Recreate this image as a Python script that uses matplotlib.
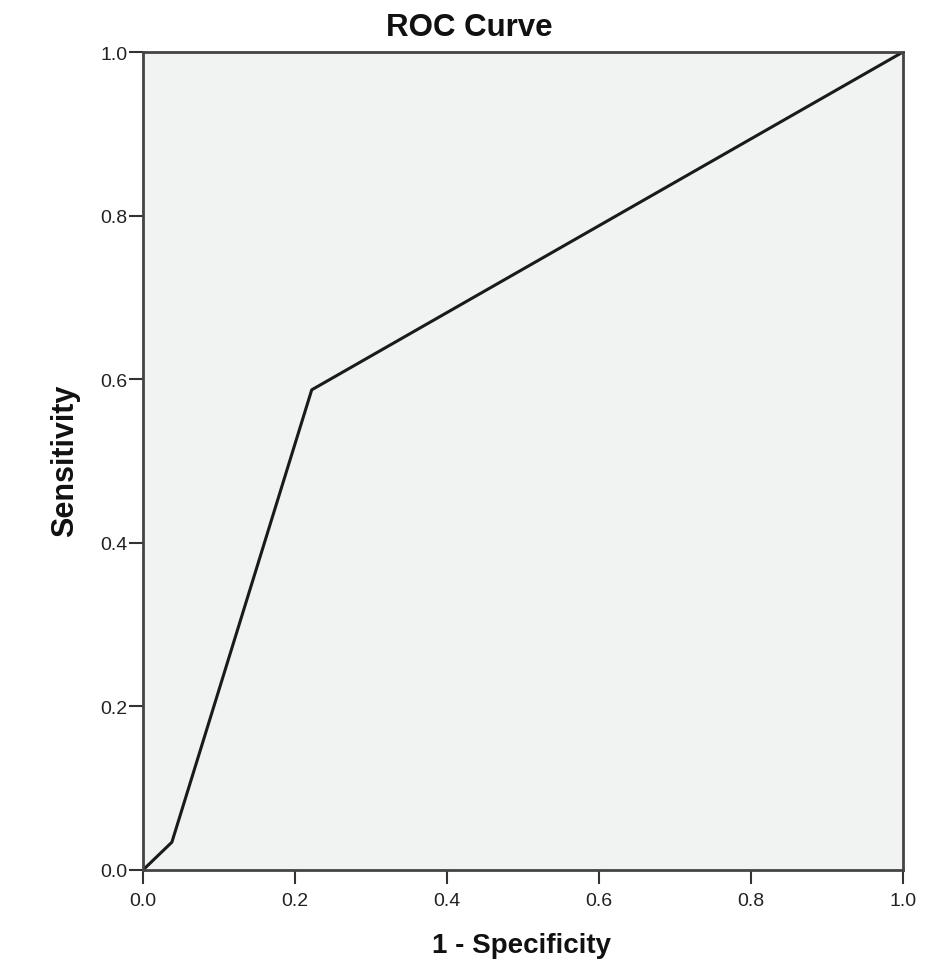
import matplotlib
matplotlib.use("Agg")
import matplotlib.pyplot as plt

# ROC points
fpr = [0.0, 0.038, 0.222, 1.0]
tpr = [0.0, 0.034, 0.587, 1.0]
ticks = [0.0, 0.2, 0.4, 0.6, 0.8, 1.0]

plt.rcParams["font.family"] = ["Liberation Sans", "DejaVu Sans"]


def main():
    fig = plt.figure(figsize=(9.28, 9.70), dpi=100)
    ax = fig.add_axes([143 / 928, 1 - 871 / 970, 760 / 928, 818 / 970])
    ax.set_facecolor("#f1f2f2")
    ax.plot(fpr, tpr, color="#1a1a1a", linewidth=2.2)
    ax.set_xlim(0, 1)
    ax.set_ylim(0, 1)
    ax.set_xticks(ticks)
    ax.set_yticks(ticks)
    ax.set_xticklabels([f"{t:.1f}" for t in ticks])
    ax.set_yticklabels([f"{t:.1f}" for t in ticks])
    ax.tick_params(direction="out", length=10, width=1.5, color="#333333",
                   labelsize=14, labelcolor="#222222")
    ax.tick_params(axis="y", pad=1)
    ax.tick_params(axis="x", pad=6)
    for s in ax.spines.values():
        s.set_linewidth(2)
        s.set_color("#444444")
    fig.text(469 / 928, 1 - 28 / 970, "ROC Curve", fontsize=22.5, fontweight="bold",
             color="#111111", ha="center", va="center")
    fig.text(522 / 928, 1 - 946 / 970, "1 - Specificity", fontsize=20, fontweight="bold",
             color="#111111", ha="center", va="center")
    fig.text(65 / 928, 1 - 461 / 970, "Sensitivity", fontsize=22, fontweight="bold",
             color="#111111", ha="center", va="center", rotation=90)
    fig.savefig("out.png", dpi=100)


if __name__ == "__main__":
    main()
